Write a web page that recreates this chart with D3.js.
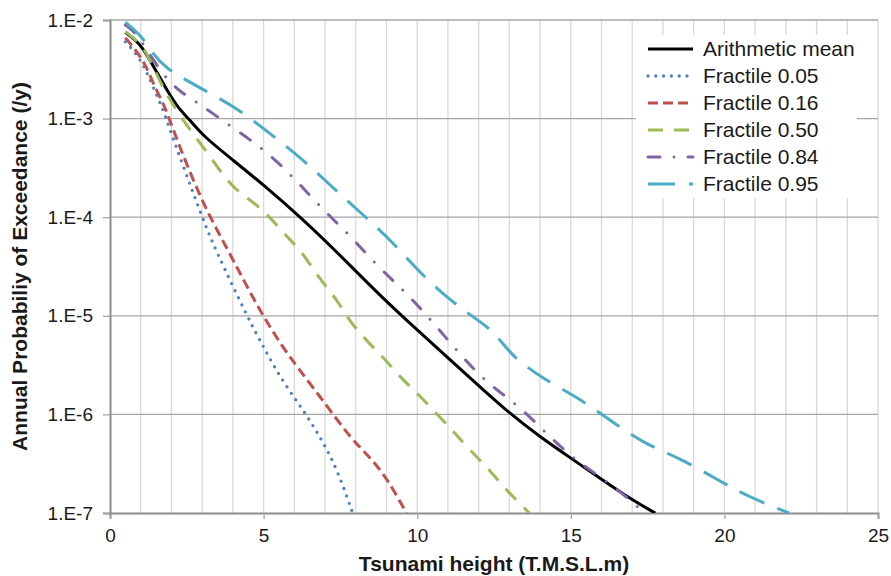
<!DOCTYPE html>
<html>
<head>
<meta charset="utf-8">
<script src="https://cdn.jsdelivr.net/npm/d3@7"></script>
<style>
  body { margin: 0; background: #fff; }
  svg { display: block; font-family: "Liberation Sans", Arial, Helvetica, sans-serif; }
</style>
</head>
<body>
<svg id="chart" width="891" height="576"></svg>
<script>
/*
  Tsunami hazard curves (log scale)
*/

var seriesNames = ["Arithmetic mean", "Fractile 0.05", "Fractile 0.16", "Fractile 0.50", "Fractile 0.84", "Fractile 0.95"];

// tsunami height (m) / annual probability of exceedance
var meanH = [0.5, 0.8, 1.05, 1.3, 1.6, 1.85, 2.2, 2.6, 3.0, 4.0, 5.1, 6.2, 7.25, 8.9, 10, 11.1, 12.15, 13, 14, 15, 16, 17, 17.75];
var meanP = [7.5e-3, 6.4e-3, 5.3e-3, 3.9e-3, 2.7e-3, 1.95e-3, 1.3e-3, 9.7e-4, 6.8e-4, 3.8e-4, 2.0e-4, 1.0e-4, 4.9e-5, 1.48e-5, 7.2e-6, 3.5e-6, 1.78e-6, 1.03e-6, 5.9e-7, 3.6e-7, 2.2e-7, 1.35e-7, 1.0e-7];

var f05H = [0.5, 0.85, 1.15, 1.4, 1.7, 1.9, 2.45, 3.0, 3.4, 4.55, 5.0, 5.6, 6.3, 6.9, 7.4, 7.9];
var f05P = [6.0e-3, 4.6e-3, 3.2e-3, 2.1e-3, 1.3e-3, 8.5e-4, 2.9e-4, 1.0e-4, 4.9e-5, 8.7e-6, 4.8e-6, 2.2e-6, 1.1e-6, 5.5e-7, 2.75e-7, 1.0e-7];

var f16H = [0.5, 0.9, 1.2, 1.45, 1.8, 2.0, 2.95, 3.8, 4.55, 5.0, 5.55, 6.1, 7.0, 7.8, 8.45, 9.0, 9.65];
var f16P = [6.6e-3, 4.7e-3, 3.3e-3, 2.1e-3, 1.3e-3, 8.5e-4, 1.5e-4, 4.9e-5, 1.75e-5, 9.8e-6, 5.2e-6, 3.0e-6, 1.3e-6, 5.9e-7, 3.7e-7, 2.3e-7, 1.0e-7];

var f50H = [0.5, 1.05, 1.3, 1.65, 1.95, 2.45, 2.95, 3.5, 4.0, 4.55, 5.1, 5.75, 6.2, 6.85, 7.4, 7.8, 8.45, 9.0, 9.55, 10.0, 10.65, 11.2, 11.7, 12.35, 12.9, 13.65];
var f50P = [7.6e-3, 5.6e-3, 3.9e-3, 2.3e-3, 1.55e-3, 8.9e-4, 5.6e-4, 3.2e-4, 2.0e-4, 1.5e-4, 1.1e-4, 6.3e-5, 4.7e-5, 2.3e-5, 1.45e-5, 8.7e-6, 5.2e-6, 3.5e-6, 2.2e-6, 1.65e-6, 1.0e-6, 6.6e-7, 4.4e-7, 2.75e-7, 1.7e-7, 1.0e-7];

var f84H = [0.5, 0.8, 1.05, 1.35, 1.8, 2.25, 2.85, 3.9, 5.0, 5.95, 6.85, 7.8, 8.7, 9.65, 10.5, 11.35, 12.25, 13.3, 14.25, 15.2, 16.3, 17.3];
var f84P = [8.9e-3, 7.6e-3, 5.9e-3, 4.2e-3, 2.6e-3, 1.9e-3, 1.45e-3, 8.5e-4, 4.9e-4, 2.6e-4, 1.26e-4, 6.6e-5, 3.2e-5, 1.7e-5, 8.7e-6, 4.2e-6, 2.1e-6, 1.23e-6, 6.2e-7, 3.3e-7, 2.0e-7, 1.07e-7];

var f95H = [0.5, 1.05, 1.35, 1.85, 2.35, 3.05, 4.1, 5.2, 6.3, 7.25, 8.25, 9.2, 10.1, 11.05, 12.05, 12.5, 13.0, 13.35, 14.1, 15.2, 16.2, 17.35, 18.55, 19.75, 20.8, 22.1];
var f95P = [9.5e-3, 6.8e-3, 4.7e-3, 3.2e-3, 2.6e-3, 1.95e-3, 1.3e-3, 7.1e-4, 3.8e-4, 2.0e-4, 1.05e-4, 5.6e-5, 2.7e-5, 1.45e-5, 8.7e-6, 6.8e-6, 4.3e-6, 3.4e-6, 2.3e-6, 1.5e-6, 9.1e-7, 5.1e-7, 3.6e-7, 2.2e-7, 1.45e-7, 1.0e-7];

var xTicks = [0, 5, 10, 15, 20, 25];
var yTicks = [1e-7, 1e-6, 1e-5, 1e-4, 1e-3, 1e-2];

var colors = ["#000000", "#4F81BD", "#C0504D", "#9BBB59", "#8064A2", "#4BACC6"],
    dashes = [null, "0 7.8", "10 5", "15 11", "12 14 0 14", "27 14"],
    caps = ["butt", "round", "butt", "butt", "round", "butt"];

var margin = {top: 20, right: 13, bottom: 63, left: 110},
    width = 891 - margin.left - margin.right,
    height = 576 - margin.top - margin.bottom;

var series = [[meanH, meanP], [f05H, f05P], [f16H, f16P], [f50H, f50P], [f84H, f84P], [f95H, f95P]].map(function(s, i){
  return {
    name: seriesNames[i],
    values: s[0].map(function(h, j){ return {h: h, p: s[1][j]}; })
  };
});

var svg = d3.select("#chart")
  .append("g")
    .attr("transform", "translate(" + margin.left + "," + margin.top + ")");

var x = d3.scaleLinear().domain([0, 25]).range([0, width]);
var y = d3.scaleLog().domain([1e-7, 1e-2]).range([height, 0]);

//Vertical gridlines every 1 m
svg.append("g")
  .selectAll("line")
  .data(d3.range(1, 26))
  .enter().append("line")
    .attr("x1", function(d){ return x(d); })
    .attr("x2", function(d){ return x(d); })
    .attr("y1", 0)
    .attr("y2", height)
    .style("stroke", "#d9d9d9")
    .style("stroke-width", 1.3);

//Horizontal gridlines at each decade
svg.append("g")
  .selectAll("line")
  .data(yTicks.slice(1))
  .enter().append("line")
    .attr("x1", 0)
    .attr("x2", width)
    .attr("y1", function(d){ return y(d); })
    .attr("y2", function(d){ return y(d); })
    .style("stroke", "#a6a6a6")
    .style("stroke-width", 1.3);

//Axes
var xAxis = svg.append("g")
  .attr("transform", "translate(0," + height + ")")
  .call(d3.axisBottom(x).tickValues(xTicks).tickSize(6).tickPadding(10));

var yAxis = svg.append("g")
  .call(d3.axisLeft(y).tickValues(yTicks).tickSize(7).tickPadding(10)
    .tickFormat(function(d){ return "1.E" + Math.round(Math.log10(d)); }));

[xAxis, yAxis].forEach(function(a){
  a.select(".domain").style("stroke", "#8c8c8c").style("stroke-width", 2);
  a.selectAll(".tick line").style("stroke", "#a6a6a6").style("stroke-width", 1.3);
  a.selectAll("text").style("font-size", "19px").style("fill", "#1a1a1a")
    .style("font-family", "'Liberation Sans', Arial, sans-serif");
});

//Curves
svg.append("clipPath").attr("id", "plotclip")
  .append("rect").attr("x", 0).attr("y", -2).attr("width", width).attr("height", height + 2);

var line = d3.line()
  .x(function(d){ return x(d.h); })
  .y(function(d){ return y(d.p); })
  .curve(d3.curveBasis);

svg.append("g").attr("clip-path", "url(#plotclip)")
  .selectAll("path")
  .data(series)
  .enter().append("path")
    .attr("d", function(d){ return line(d.values); })
    .style("fill", "none")
    .style("stroke", function(d, i){ return colors[i]; })
    .style("stroke-width", function(d, i){ return i == 1 ? 3.3 : 3; })
    .style("stroke-linecap", function(d, i){ return caps[i]; })
    .style("stroke-dasharray", function(d, i){ return dashes[i]; });

//Legend
var legend = svg.append("g")
  .attr("transform", "translate(" + (636 - margin.left) + "," + (35 - margin.top) + ")");

legend.append("rect")
  .attr("width", 221)
  .attr("height", 163)
  .style("fill", "#fff");

var items = legend.selectAll(".item")
  .data(series)
  .enter().append("g")
    .attr("class", "item")
    .attr("transform", function(d, i){ return "translate(0," + (14 + i * 27) + ")"; });

items.append("line")
  .attr("x1", 12)
  .attr("x2", 57)
  .style("stroke", function(d, i){ return colors[i]; })
  .style("stroke-width", function(d, i){ return i == 1 ? 3.3 : 3; })
  .style("stroke-linecap", function(d, i){ return caps[i]; })
  .style("stroke-dasharray", function(d, i){ return dashes[i]; });

items.append("text")
  .attr("x", 67)
  .attr("dy", "0.35em")
  .style("font-size", "21px")
  .style("fill", "#1a1a1a")
  .text(function(d){ return d.name; });

//Labels
svg.append("text")
  .attr("transform", "rotate(-90)")
  .attr("x", 0 - (height / 2))
  .attr("y", 27 - margin.left)
  .style("text-anchor", "middle")
  .style("font-weight", "bold")
  .style("font-size", "21px")
  .style("fill", "#1a1a1a")
  .text("Annual Probabiliy of Exceedance (/y)");

svg.append("text")
  .attr("x", width / 2)
  .attr("y", height + 58)
  .style("text-anchor", "middle")
  .style("font-weight", "bold")
  .style("font-size", "21px")
  .style("fill", "#1a1a1a")
  .text("Tsunami height (T.M.S.L.m)");
</script>
</body>
</html>
